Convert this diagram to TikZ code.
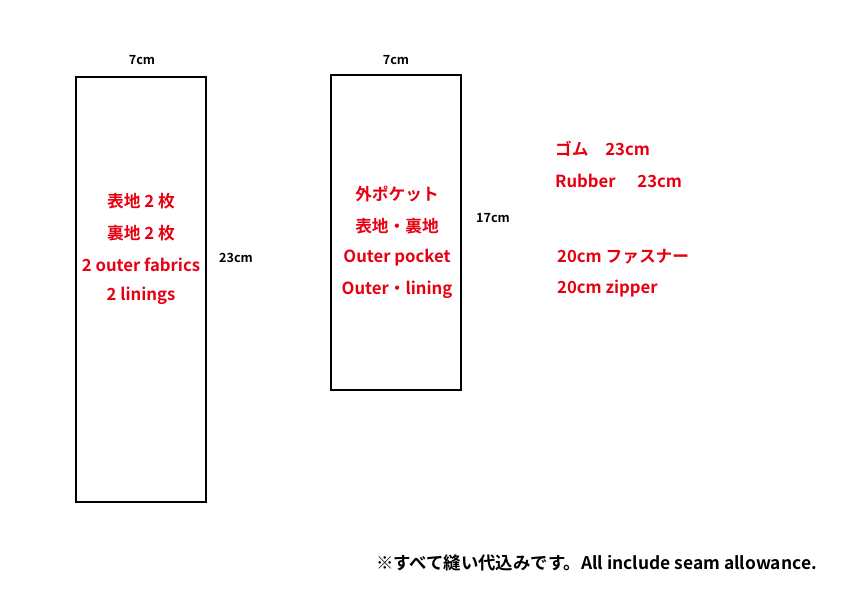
\documentclass[tikz,border=0pt]{standalone}
\usepackage{fontspec}
\setmainfont{Noto Sans CJK JP}[BoldFont={* Bold}]
\definecolor{jred}{RGB}{230,0,18}
\begin{document}
\begin{tikzpicture}[x=1pt,y=-1pt,
  piece/.style={draw=black,line width=1.6pt},
  redtxt/.style={text=jred,font=\bfseries\fontsize{16.7}{18}\selectfont,inner sep=0pt},
  dimtxt/.style={text=black,font=\bfseries\fontsize{12.6}{14}\selectfont,inner sep=0pt},
  notetxt/.style={text=black,font=\bfseries\fontsize{17.4}{19}\selectfont,inner sep=0pt}]
\useasboundingbox (0,0) rectangle (842,595);
\node[piece,minimum width=130pt,minimum height=425pt,inner sep=0pt] (main) at (141,289.5) {};
\node[piece,minimum width=130pt,minimum height=315pt,inner sep=0pt] (pocket) at (396,232.5) {};
\node[dimtxt] (w1) at (142,60) {7cm};
\node[dimtxt] (w2) at (396,60) {7cm};
\node[dimtxt] (h1) at (236,258) {23cm};
\node[dimtxt] (h2) at (493,218) {17cm};
\node[redtxt] (a1) at (141,201) {表地 2 枚};
\node[redtxt] (a2) at (141,233) {裏地 2 枚};
\node[redtxt] (a3) at (141,265) {2 outer fabrics};
\node[redtxt] (a4) at (141,296) {2 linings};
\node[redtxt] (b1) at (397,194) {外ポケット};
\node[redtxt] (b2) at (397,226) {表地・裏地};
\node[redtxt] (b3) at (397,258) {Outer pocket};
\node[redtxt] (b4) at (397,290) {Outer・lining};
\node[redtxt,anchor=west] (c1) at (555,149) {ゴム　23cm};
\node[redtxt,anchor=west] (c2) at (555,181) {Rubber\hspace{1.3em}23cm};
\node[redtxt,anchor=west] (c3) at (557,257) {20cm ファスナー};
\node[redtxt,anchor=west] (c4) at (557,289) {20cm zipper};
\node[notetxt,anchor=east] (note) at (817,563) {※すべて縫い代込みです。All include seam allowance.};
\end{tikzpicture}
\end{document}
